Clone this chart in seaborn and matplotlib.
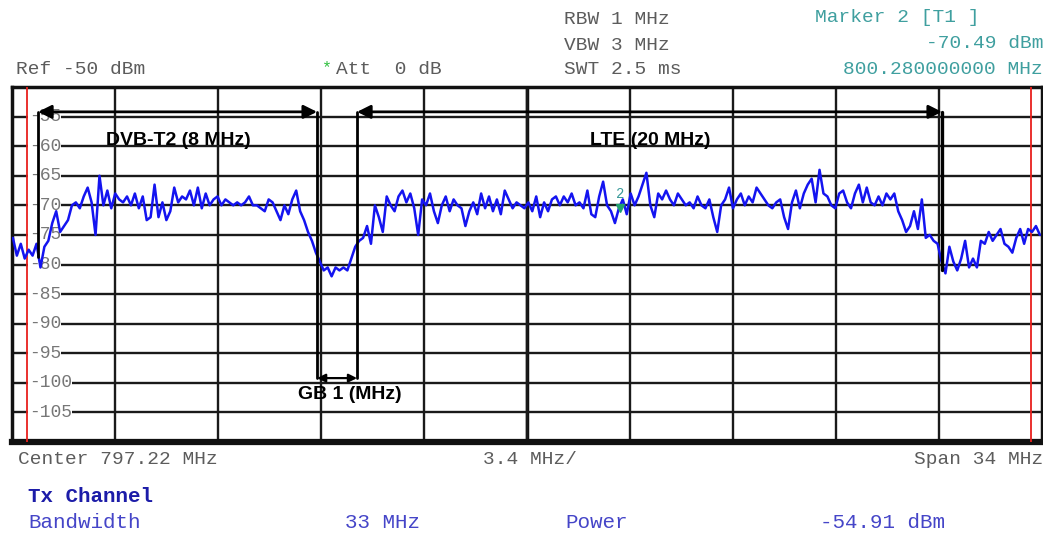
import numpy as np
import pandas as pd
import seaborn as sns
import matplotlib
matplotlib.use("Agg")
import matplotlib.pyplot as plt

# analyzer settings
center_mhz = 797.22
span_mhz = 34.0
ref_level = -50
db_per_div = 5
ref_labels = [-55, -60, -65, -70, -75, -80, -85, -90, -95, -100, -105]
sweep_start = 780.25
sweep_stop = 814.15

# trace levels (dBm), left to right
trace_a = [-75.5, -78.5, -76.5, -79, -77.5, -78.5, -76.5, -80.5, -77, -76,
           -73, -71, -74.5, -73.5, -72.5, -70, -69.5, -70.5, -68.5, -67,
           -69.5, -75, -65, -70, -67.5, -70.5, -68, -69, -69.5, -68.5,
           -70, -68, -70.5, -68.5, -72.5, -72, -66.5, -72, -69.5, -72.5,
           -71, -67, -69.5, -68.5, -69, -67.5, -70, -67, -70.5, -68,
           -70, -69, -68.5, -70, -69, -69.5, -70, -69.5, -70, -69.5,
           -68.5, -70, -70, -70.5, -71, -69]
trace_b = [-69.5, -71, -72.5, -70, -71.5, -69, -67.5, -71, -72.5, -74.5,
           -76, -78, -79.5, -81, -80.5, -82, -80.5, -81, -80.5, -81,
           -79, -77, -76, -75.5, -73.5, -76.5, -70, -72, -74.5, -68.5,
           -70, -71, -68.5, -67.5, -69.5, -68, -70.5, -75, -69, -70,
           -68, -71, -73, -70, -68.5, -71, -69, -70, -70.5, -73.5,
           -71, -69.5, -71.5, -68, -70.5, -68.5, -71, -69, -71.5, -67.5,
           -69, -70.5, -69.5, -70]
trace_c = [-70.5, -69.5, -71, -68.5, -72, -69.5, -71, -69, -68.5, -70,
           -68.5, -69.5, -68, -70, -69.5, -70.5, -67.5, -71.5, -72, -68.5,
           -66, -70, -71, -73, -70.5, -69, -71.5, -68, -70, -68.5,
           -66.5, -64.5, -70, -72, -68, -69, -67.5, -69, -70, -68,
           -69, -70, -69.5, -70.5, -68.5, -70, -70.5, -69, -72, -74.5,
           -70, -69, -67, -70.5, -69, -68, -70, -68.5, -69.5, -67,
           -68, -69, -70, -70.5, -69.5]
trace_d = [-69, -72, -74, -69.5, -67.5, -70.5, -68, -66.5, -65.5, -69.5,
           -64, -68, -68.5, -70, -70.5, -68, -67.5, -69.5, -70.5, -68,
           -66.5, -69.5, -67, -69.5, -70, -68.5, -70, -68, -69, -68,
           -71, -72.5, -74.5, -73.5, -71, -74, -69, -75.5, -75, -76,
           -76.5, -79.5, -81.5, -77, -79.5, -81, -79, -76, -80.5, -79,
           -80.5, -76, -76.5, -74.5, -76, -75, -74, -76.5, -77, -78,
           -75.5, -74, -76.5, -74, -74.5, -73.5, -75]

# display lines (red) and marker 2
display_lines = [780.72, 813.85]
marker2_mhz = 800.28
marker2_dbm = -70.49

# band annotations
dvb_edges = [781.08, 790.29]
lte_edges = [791.61, 810.92]
arrow_level = -54.2
dvb_left_bottom = -78.7
gb_level = -99.2
lte_right_bottom = -80.9

levels = trace_a + trace_b + trace_c + trace_d
df = pd.DataFrame({"freq": np.linspace(sweep_start, sweep_stop, len(levels)),
                   "level": levels})

sns.set_style("white")
plt.rcParams["font.family"] = ["Liberation Mono", "DejaVu Sans Mono"]

fig = plt.figure(figsize=(10.43, 5.34), dpi=100)
ax = fig.add_axes([12 / 1043, 92 / 534, 1030 / 1043, 355 / 534])

xmin = center_mhz - span_mhz / 2
xmax = center_mhz + span_mhz / 2
ax.set_xlim(xmin, xmax)
ax.set_ylim(ref_level - 12 * db_per_div, ref_level)

# graticule
ax.set_xticks([xmin + k * span_mhz / 10 for k in range(1, 10)])
ax.set_yticks(ref_labels)
ax.grid(True, color="#1a1a1a", lw=1.7, zorder=0)
ax.tick_params(length=0, labelbottom=False, labelleft=False)
ax.axvline(center_mhz, color="#111111", lw=2.5, zorder=0.5)
for s in ax.spines.values():
    s.set_color("#111111")
    s.set_linewidth(2.5)
ax.spines["bottom"].set_linewidth(4.5)

for lv in ref_labels:
    ax.text(xmin + 0.55, lv, str(lv), color="#777777", fontsize=13,
            va="center", ha="left", zorder=1,
            bbox=dict(facecolor="white", edgecolor="none", pad=0.3))

for f in display_lines:
    ax.axvline(f, color="#e8201c", lw=1.3, zorder=3)

sns.lineplot(data=df, x="freq", y="level", ax=ax, color="#1414f0", lw=1.8,
             zorder=4, legend=False)
ax.set_xlabel("")
ax.set_ylabel("")

# marker 2
ax.plot([marker2_mhz], [marker2_dbm], marker="v", color="#20a070", ms=6, zorder=5)
ax.text(marker2_mhz, marker2_dbm + 1.2, "2", color="#3a9a9a", fontsize=10,
        ha="center", va="bottom", zorder=5)

# band annotations
ap = dict(arrowstyle="<|-|>", color="black", lw=2, mutation_scale=20,
          shrinkA=0, shrinkB=0)
ax.annotate("", xy=(dvb_edges[0], arrow_level), xytext=(dvb_edges[1], arrow_level),
            arrowprops=ap, zorder=6)
ax.annotate("", xy=(lte_edges[0], arrow_level), xytext=(lte_edges[1], arrow_level),
            arrowprops=ap, zorder=6)
ap_small = dict(ap, mutation_scale=12, lw=1.6)
ax.annotate("", xy=(dvb_edges[1], gb_level), xytext=(lte_edges[0], gb_level),
            arrowprops=ap_small, zorder=6)
ax.plot([dvb_edges[0]] * 2, [arrow_level, dvb_left_bottom], color="black", lw=2, zorder=6)
ax.plot([dvb_edges[1]] * 2, [arrow_level, gb_level], color="black", lw=2, zorder=6)
ax.plot([lte_edges[0]] * 2, [arrow_level, gb_level], color="black", lw=2, zorder=6)
ax.plot([lte_edges[1]] * 2, [arrow_level, lte_right_bottom], color="black", lw=2.4, zorder=6)

bold = dict(family=["Liberation Sans", "DejaVu Sans"], fontweight="bold",
            fontsize=14, color="black", ha="center", va="center", zorder=7)
ax.text(785.70, -59.0, "DVB-T2 (8 MHz)", **bold)
ax.text(801.28, -59.0, "LTE (20 MHz)", **bold)
ax.text(791.38, -102.0, "GB 1 (MHz)", **bold)

# screen header / footer
grey = "#5c5c5c"
teal = "#3f9f9f"
def put(x, y, s, **kw):
    kw.setdefault("color", grey)
    kw.setdefault("fontsize", 14)
    kw.setdefault("va", "center")
    fig.text(x / 1043, 1 - y / 534, s, **kw)

put(16, 70, "Ref -50 dBm")
put(327, 68, "*", color="#30c040", fontsize=12, ha="center")
put(336, 70, "Att  0 dB")
put(564, 20, "RBW 1 MHz")
put(564, 45, "VBW 3 MHz")
put(564, 70, "SWT 2.5 ms")
put(815, 17, "Marker 2 [T1 ]", color=teal)
put(1043, 43, "-70.49 dBm", color=teal, ha="right")
put(1043, 70, "800.280000000 MHz", color=teal, ha="right")
put(18, 460, "Center 797.22 MHz")
put(530, 460, "3.4 MHz/", ha="center")
put(1043, 460, "Span 34 MHz", ha="right")
put(28, 497, "Tx Channel", color="#1c1ca8", fontweight="bold", fontsize=15)
blue = "#4545c8"
put(28, 523, "Bandwidth", color=blue, fontsize=15)
put(345, 523, "33 MHz", color=blue, fontsize=15)
put(565, 523, "Power", color=blue, fontsize=15)
put(820, 523, "-54.91 dBm", color=blue, fontsize=15)

fig.savefig("out.png", dpi=100)
